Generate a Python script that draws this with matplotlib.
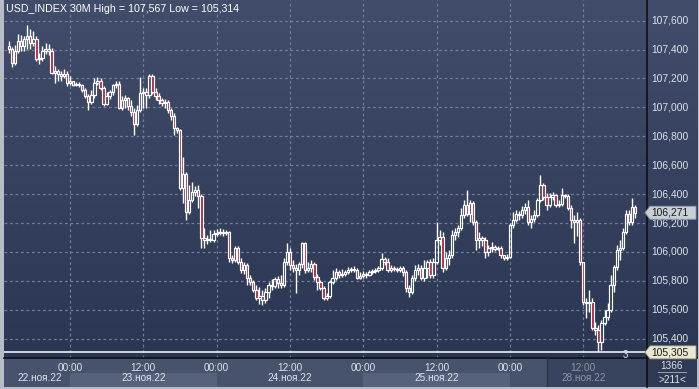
import matplotlib
matplotlib.use('Agg')
import matplotlib.pyplot as plt
import numpy as np
from matplotlib.patches import Rectangle, Polygon
from matplotlib.lines import Line2D
import matplotlib.transforms as mtransforms

plt.rcParams['font.family'] = ['Liberation Sans', 'DejaVu Sans']

# ---------------- data (USD_INDEX, 30M bars) ----------------
opens = [107.428, 107.407, 107.310, 107.393, 107.462, 107.428, 107.476, 107.497, 107.448, 107.476,
         107.338, 107.345, 107.393, 107.407, 107.393, 107.241, 107.255, 107.228, 107.214, 107.234,
         107.172, 107.186, 107.158, 107.165, 107.152, 107.117, 107.076, 107.034, 107.083, 107.172,
         107.186, 107.131, 107.021, 107.076, 107.103, 107.152, 107.165, 106.993, 107.048, 107.062,
         107.007, 106.965, 106.882, 106.979, 107.097, 107.103, 107.083, 107.214, 107.103, 107.076,
         107.048, 107.028, 107.034, 106.979, 106.938, 106.855, 106.841, 106.441, 106.538, 106.276,
         106.359, 106.414, 106.428, 106.386, 106.096, 106.083, 106.090, 106.083, 106.124, 106.131,
         106.138, 106.131, 106.138, 105.959, 105.945, 106.028, 105.931, 105.876, 105.910, 105.821,
         105.793, 105.738, 105.683, 105.697, 105.669, 105.724, 105.772, 105.765, 105.814, 105.786,
         105.772, 105.931, 106.000, 105.910, 105.890, 105.876, 105.917, 106.062, 105.876, 105.890,
         105.917, 105.828, 105.793, 105.752, 105.683, 105.697, 105.793, 105.821, 105.862, 105.841,
         105.848, 105.862, 105.876, 105.883, 105.876, 105.821, 105.834, 105.848, 105.841, 105.862,
         105.869, 105.876, 105.890, 105.952, 105.931, 105.876, 105.890, 105.883, 105.876, 105.890,
         105.862, 105.752, 105.724, 105.821, 105.876, 105.890, 105.821, 105.890, 105.931, 105.841,
         105.931, 106.083, 106.103, 105.890, 105.959, 105.979, 106.117, 106.138, 106.166, 106.255,
         106.324, 106.262, 106.338, 106.207, 106.083, 106.097, 106.083, 106.000, 106.028, 106.035,
         106.021, 106.028, 105.979, 105.959, 105.966, 106.186, 106.221, 106.262, 106.255, 106.290,
         106.310, 106.207, 106.228, 106.255, 106.359, 106.462, 106.379, 106.324, 106.379, 106.393,
         106.324, 106.331, 106.393, 106.386, 106.304, 106.221, 106.207, 106.221, 105.931, 105.655,
         105.648, 105.655, 105.476, 105.462, 105.379, 105.510, 105.552, 105.600, 105.772, 105.897,
         106.014, 106.028, 106.138, 106.262, 106.207, 106.310]

closes = [107.407, 107.310, 107.393, 107.462, 107.428, 107.476, 107.497, 107.448, 107.476, 107.338,
          107.345, 107.393, 107.407, 107.393, 107.241, 107.255, 107.228, 107.214, 107.234, 107.172,
          107.186, 107.158, 107.165, 107.152, 107.117, 107.076, 107.034, 107.083, 107.172, 107.186,
          107.131, 107.021, 107.076, 107.103, 107.152, 107.165, 106.993, 107.048, 107.062, 107.007,
          106.965, 106.882, 106.979, 107.097, 107.103, 107.083, 107.214, 107.103, 107.076, 107.048,
          107.028, 107.034, 106.979, 106.938, 106.855, 106.841, 106.441, 106.538, 106.276, 106.359,
          106.414, 106.428, 106.386, 106.096, 106.083, 106.090, 106.083, 106.124, 106.131, 106.138,
          106.131, 106.138, 105.959, 105.945, 106.028, 105.931, 105.876, 105.910, 105.821, 105.793,
          105.738, 105.683, 105.697, 105.669, 105.724, 105.772, 105.765, 105.814, 105.786, 105.772,
          105.931, 106.000, 105.910, 105.890, 105.876, 105.917, 106.062, 105.876, 105.890, 105.917,
          105.828, 105.793, 105.752, 105.683, 105.697, 105.793, 105.821, 105.862, 105.841, 105.848,
          105.862, 105.876, 105.883, 105.876, 105.821, 105.834, 105.848, 105.841, 105.862, 105.869,
          105.876, 105.890, 105.952, 105.931, 105.876, 105.890, 105.883, 105.876, 105.890, 105.862,
          105.752, 105.724, 105.821, 105.876, 105.890, 105.821, 105.890, 105.931, 105.841, 105.931,
          106.083, 106.103, 105.890, 105.959, 105.979, 106.117, 106.138, 106.166, 106.255, 106.324,
          106.262, 106.338, 106.207, 106.083, 106.097, 106.083, 106.000, 106.028, 106.035, 106.021,
          106.028, 105.979, 105.959, 105.966, 106.186, 106.221, 106.262, 106.255, 106.290, 106.310,
          106.207, 106.228, 106.255, 106.359, 106.462, 106.379, 106.324, 106.379, 106.393, 106.324,
          106.331, 106.393, 106.386, 106.304, 106.221, 106.207, 106.221, 105.931, 105.655, 105.648,
          105.655, 105.476, 105.462, 105.379, 105.510, 105.552, 105.600, 105.772, 105.897, 106.014,
          106.028, 106.138, 106.262, 106.207, 106.310, 106.271]

highs = [107.462, 107.421, 107.434, 107.510, 107.503, 107.497, 107.567, 107.545, 107.531, 107.497,
         107.379, 107.428, 107.448, 107.441, 107.414, 107.283, 107.269, 107.255, 107.269, 107.255,
         107.214, 107.186, 107.179, 107.179, 107.165, 107.131, 107.090, 107.117, 107.200, 107.207,
         107.200, 107.145, 107.103, 107.117, 107.165, 107.186, 107.186, 107.076, 107.083, 107.069,
         107.048, 106.993, 107.014, 107.207, 107.131, 107.131, 107.234, 107.228, 107.131, 107.097,
         107.062, 107.055, 107.048, 106.993, 106.958, 106.862, 106.848, 106.655, 106.552, 106.462,
         106.483, 106.455, 106.462, 106.400, 106.166, 106.117, 106.152, 106.152, 106.159, 106.166,
         106.159, 106.152, 106.145, 105.979, 106.041, 106.041, 105.959, 105.931, 105.924, 105.841,
         105.807, 105.772, 105.759, 105.738, 105.752, 105.793, 105.814, 105.828, 105.834, 105.841,
         105.959, 106.062, 106.028, 105.945, 105.917, 105.931, 106.069, 106.069, 105.931, 105.945,
         105.931, 105.848, 105.807, 105.765, 105.717, 105.807, 105.876, 105.890, 105.876, 105.883,
         105.876, 105.897, 105.897, 105.903, 105.890, 105.862, 105.869, 105.862, 105.876, 105.883,
         105.890, 105.903, 105.993, 105.966, 105.959, 105.910, 105.903, 105.897, 105.903, 105.903,
         105.876, 105.772, 105.841, 105.910, 105.917, 105.910, 105.945, 105.945, 105.952, 105.959,
         106.207, 106.152, 106.138, 106.000, 106.014, 106.152, 106.166, 106.186, 106.303, 106.359,
         106.428, 106.359, 106.352, 106.221, 106.138, 106.110, 106.103, 106.048, 106.069, 106.048,
         106.041, 106.041, 105.979, 105.986, 106.200, 106.276, 106.290, 106.283, 106.317, 106.338,
         106.359, 106.255, 106.290, 106.372, 106.531, 106.476, 106.407, 106.407, 106.414, 106.400,
         106.359, 106.441, 106.400, 106.400, 106.324, 106.255, 106.276, 106.234, 105.931, 105.683,
         105.738, 105.683, 105.517, 105.497, 105.531, 105.600, 105.648, 105.841, 105.910, 106.048,
         106.083, 106.166, 106.290, 106.290, 106.372, 106.324]

lows = [107.379, 107.276, 107.290, 107.379, 107.393, 107.393, 107.407, 107.407, 107.428, 107.324,
        107.303, 107.324, 107.372, 107.365, 107.228, 107.172, 107.186, 107.186, 107.200, 107.145,
        107.158, 107.145, 107.145, 107.138, 107.103, 107.062, 106.979, 107.021, 107.062, 107.152,
        107.117, 107.007, 107.014, 107.055, 107.083, 107.131, 106.986, 106.979, 106.993, 106.979,
        106.938, 106.807, 106.869, 106.965, 106.993, 106.993, 107.062, 107.090, 107.048, 107.021,
        107.007, 106.993, 106.958, 106.910, 106.807, 106.821, 106.428, 106.338, 106.221, 106.262,
        106.345, 106.386, 106.304, 106.028, 106.028, 106.055, 106.069, 106.069, 106.110, 106.117,
        106.110, 106.117, 105.931, 105.924, 105.931, 105.917, 105.855, 105.848, 105.772, 105.772,
        105.724, 105.669, 105.641, 105.634, 105.648, 105.683, 105.738, 105.752, 105.752, 105.752,
        105.759, 105.910, 105.876, 105.862, 105.717, 105.841, 105.890, 105.855, 105.862, 105.862,
        105.807, 105.738, 105.738, 105.669, 105.669, 105.683, 105.779, 105.807, 105.821, 105.828,
        105.834, 105.848, 105.862, 105.862, 105.814, 105.814, 105.821, 105.821, 105.834, 105.848,
        105.855, 105.862, 105.876, 105.910, 105.862, 105.862, 105.869, 105.862, 105.862, 105.834,
        105.724, 105.690, 105.710, 105.800, 105.841, 105.807, 105.800, 105.821, 105.821, 105.821,
        105.917, 106.048, 105.862, 105.876, 105.910, 105.959, 106.083, 106.103, 106.152, 106.234,
        106.248, 106.207, 106.186, 106.014, 106.028, 106.041, 105.959, 105.972, 106.000, 106.007,
        106.014, 105.959, 105.945, 105.945, 105.959, 106.166, 106.207, 106.221, 106.234, 106.262,
        106.186, 106.166, 106.207, 106.241, 106.345, 106.359, 106.290, 106.310, 106.359, 106.310,
        106.310, 106.317, 106.372, 106.290, 106.166, 106.062, 106.110, 105.910, 105.634, 105.545,
        105.586, 105.462, 105.428, 105.314, 105.324, 105.497, 105.531, 105.586, 105.724, 105.876,
        105.945, 106.014, 106.124, 106.186, 106.186, 106.234]

price_ticks = [105.4, 105.6, 105.8, 106.0, 106.2, 106.4, 106.6, 106.8, 107.0, 107.2, 107.4, 107.6]
time_tick_bars = [20, 44, 68, 92, 116, 140, 164, 188]
time_tick_labels = ['00:00', '12:00', '00:00', '12:00', '00:00', '12:00', '00:00', '12:00']
date_label_bars = [10, 44, 92, 140, 188]
date_labels = ['22.ноя.22', '23.ноя.22', '24.ноя.22', '25.ноя.22', '28.ноя.22']
title_text = 'USD_INDEX 30M High = 107,567 Low = 105,314'
last_price = 106.271
line_price = 105.305
bars_total = '1366'
bars_visible = '>211<'

# ---------------- layout ----------------
W, H = 699, 389
fig = plt.figure(figsize=(W / 100, H / 100), dpi=100)
fig.patch.set_facecolor('#b7bcc6')


def frac(x0, y0, x1, y1):
    return [x0 / W, 1 - y1 / H, (x1 - x0) / W, (y1 - y0) / H]


XLIM = (-1.6, 208.9)
YLIM = (105.266, 107.743)

# gradient background for plot + price scale
bg = fig.add_axes(frac(4, 0, 697, 358))
bg.axis('off')
t = np.linspace(0, 1, 256)[:, None, None]
c_top = np.array([65, 77, 106]) / 255
c_bot = np.array([42, 54, 82]) / 255
img = c_top * (1 - t) + c_bot * t
bg.imshow(img, aspect='auto', extent=(0, 1, 0, 1), origin='upper')
bg.set_xlim(0, 1); bg.set_ylim(0, 1)

ax = fig.add_axes(frac(4, 0, 647, 358))
ax.set_facecolor('none')
ax.set_xlim(*XLIM)
ax.set_ylim(*YLIM)
for s in ax.spines.values():
    s.set_visible(False)
ax.set_xticks([]); ax.set_yticks([])

grid_col = '#6f7d9b'
for p in price_ticks:
    ax.axhline(p, color=grid_col, lw=0.9, ls=(0, (2.2, 2.2)), zorder=1)
for b in time_tick_bars:
    ax.axvline(b, color=grid_col, lw=0.9, ls=(0, (2.2, 2.2)), zorder=1)

# candles
bw = 0.78
red = '#b5253f'
for i, (o, h, l, c) in enumerate(zip(opens, highs, lows, closes)):
    top_b, bot_b = max(o, c), min(o, c)
    if h > top_b:
        ax.plot([i, i], [top_b, h], color='white', lw=1.0, zorder=3, solid_capstyle='butt')
    if l < bot_b:
        ax.plot([i, i], [l, bot_b], color='white', lw=1.0, zorder=3, solid_capstyle='butt')
    if abs(c - o) < 1e-9:
        ax.plot([i - bw / 2, i + bw / 2], [o, o], color='white', lw=1.0, zorder=4)
    else:
        fc = red if c < o else 'none'
        ax.add_patch(Rectangle((i - bw / 2, bot_b), bw, top_b - bot_b,
                               facecolor=fc, edgecolor='white', lw=0.85, zorder=4))

ax.axhline(line_price, color='white', lw=1.1, zorder=5)

# title
fig.text(6 / W, 1 - 8.5 / H, title_text, color='white', fontsize=7.7,
         ha='left', va='center')

# price scale labels
ytr = ax.get_yaxis_transform()
for p in price_ticks:
    ax.text((651 - 4) / 643, p, f'{p:.3f}'.replace('.', ','), transform=ytr,
            color='#dde2ea', fontsize=7.4, ha='left', va='center', clip_on=False)

# price boxes
btr = mtransforms.blended_transform_factory(fig.transFigure, ax.transData)
hh = 6.5 / 144.5


def price_box_text(p, face, edge):
    pts = [(645 / W, p), (650 / W, p + hh), (696 / W, p + hh), (696 / W, p - hh), (650 / W, p - hh)]
    poly = Polygon(pts, closed=True, transform=btr, facecolor=face, edgecolor=edge,
                   lw=0.6, zorder=10, clip_on=False)
    fig.add_artist(poly)
    txt = plt.Text(651 / W, p, f'{p:.3f}'.replace('.', ','), transform=btr, color='#1b1b1b',
                   fontsize=7.4, ha='left', va='center', zorder=11)
    fig.add_artist(txt)


price_box_text(last_price, '#c9cdd6', '#8f97a8')
price_box_text(line_price, '#e8e7cf', '#9a9a88')

# time strip
st = fig.add_axes(frac(4, 358, 647, 387))
st.set_facecolor('#47536d')
st.set_xlim(*XLIM); st.set_ylim(0, 1)
st.set_xticks([]); st.set_yticks([])
for k, s in st.spines.items():
    s.set_visible(k == 'top')
st.spines['top'].set_color('#111318')
st.spines['top'].set_linewidth(1.2)
for a, b in [(20, 68), (116, 164)]:
    st.add_patch(Rectangle((a, 0.0), b - a, 0.49, facecolor='#56627b', edgecolor='none', zorder=1))
st.add_patch(Rectangle((176.2, 0), XLIM[1] - 176.2, 1, facecolor='#38445e', edgecolor='none', zorder=2))
st.axvline(176.2, color='#2a3347', lw=1, zorder=3)
for b, lab in zip(time_tick_bars, time_tick_labels):
    col = '#8c95a8' if b > 176 else '#dfe3ea'
    st.text(b, 0.665, lab, color=col, fontsize=7.2, ha='center', va='center', zorder=4)
for b, lab in zip(date_label_bars, date_labels):
    col = '#8c95a8' if b > 176 else '#dfe3ea'
    st.text(b, 0.3, lab, color=col, fontsize=7.2, ha='center', va='center', zorder=4)

# corner box
cn = fig.add_axes(frac(647, 358, 697, 387))
cn.set_facecolor('#2f3a55')
cn.set_xticks([]); cn.set_yticks([])
for k, s in cn.spines.items():
    s.set_visible(k == 'top')
cn.spines['top'].set_color('#111318')
cn.spines['top'].set_linewidth(1.2)
cn.set_xlim(0, 1); cn.set_ylim(0, 1)
cn.text(0.5, 0.74, bars_total, color='#dfe3ea', fontsize=7.2, ha='center', va='center')
cn.plot([0.22, 0.78], [0.53, 0.53], color='#9aa3b5', lw=0.7)
cn.text(0.5, 0.25, bars_visible, color='#dfe3ea', fontsize=7.2, ha='center', va='center')

# small marker label under the horizontal line
fig.add_artist(plt.Text(625 / W, 1 - 355 / H, '3', color='#e6e9ef', fontsize=7,
                        ha='center', va='center', zorder=20))

# separator between plot and price scale
fig.add_artist(Line2D([647 / W, 647 / W], [1 - 387 / H, 1.0], color='#0f1115', lw=1.2))

fig.savefig('out.png', dpi=100, facecolor=fig.get_facecolor())
